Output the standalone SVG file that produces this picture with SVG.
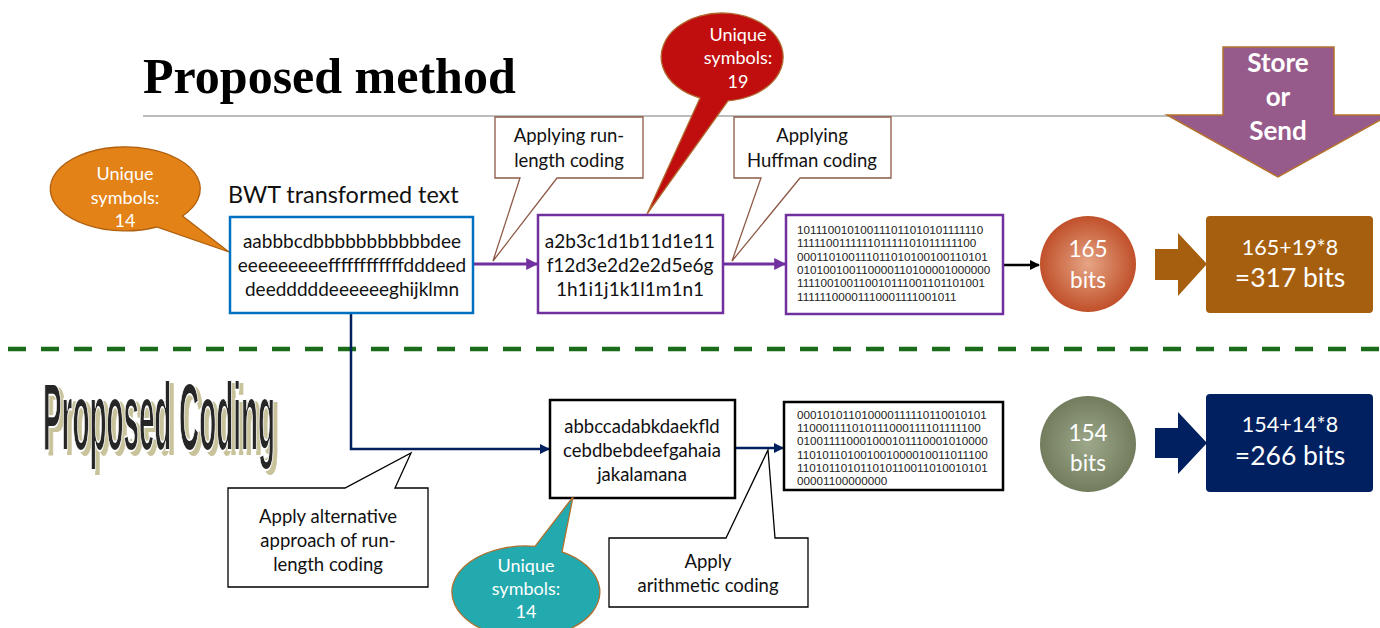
<svg xmlns="http://www.w3.org/2000/svg" width="1380" height="628" viewBox="0 0 1380 628">
<defs>
<style>
.cal{font-family:Lato,"Open Sans","Liberation Sans",sans-serif;}
.bin{font-family:"Liberation Sans",Arial,sans-serif;font-size:11.7px;fill:#222;}
.box{font-family:Lato,"Open Sans","Liberation Sans",sans-serif;font-size:19px;fill:#111;}
.box2{font-family:Lato,"Open Sans","Liberation Sans",sans-serif;font-size:18.5px;fill:#111;}
.cl{font-family:Lato,"Open Sans","Liberation Sans",sans-serif;font-size:18.5px;fill:#111;}
.wt{font-family:Lato,"Open Sans","Liberation Sans",sans-serif;font-size:18px;fill:#fff;}
.big{font-family:Lato,"Open Sans","Liberation Sans",sans-serif;fill:#fff;}
.pc{font-family:"Liberation Sans",Arial,sans-serif;font-weight:bold;font-size:97px;}
</style>
<filter id="shadow" x="-5%" y="-10%" width="115%" height="130%">
<feOffset in="SourceAlpha" dx="14" dy="4" result="off"/>
<feFlood flood-color="#C9C39C"/>
<feComposite in2="off" operator="in" result="sh"/>
<feMerge><feMergeNode in="sh"/><feMergeNode in="SourceGraphic"/></feMerge>
</filter>
<marker id="mp" viewBox="0 0 10 10" refX="9" refY="5" markerWidth="4" markerHeight="4" orient="auto"><path d="M0,0 L10,5 L0,10 Z" fill="#7030A0"/></marker>
<marker id="mk" viewBox="0 0 10 10" refX="9" refY="5" markerWidth="4" markerHeight="4" orient="auto"><path d="M0,0 L10,5 L0,10 Z" fill="#000"/></marker>
<marker id="mn" viewBox="0 0 10 10" refX="9" refY="5" markerWidth="4" markerHeight="4" orient="auto"><path d="M0,0 L10,5 L0,10 Z" fill="#002060"/></marker>
<radialGradient id="g1" cx="0.5" cy="0.5" r="0.5"><stop offset="0" stop-color="#E6A585"/><stop offset="1" stop-color="#C0502A"/></radialGradient>
<radialGradient id="g2" cx="0.5" cy="0.5" r="0.5"><stop offset="0" stop-color="#9DA88A"/><stop offset="1" stop-color="#737D5E"/></radialGradient>
</defs>
<rect width="1380" height="628" fill="#fff"/>

<g id="title">
<line x1="143" y1="116" x2="1380" y2="116" stroke="#A6A6A6" stroke-width="1.3"/>
<text x="143" y="93" font-family="Liberation Serif,Times New Roman,serif" font-weight="bold" font-size="50" fill="#000">Proposed method</text>
</g>

<g id="store-send">
<polygon points="1223,47 1334,47 1334,115 1389,115 1278,177 1167,115 1223,115" fill="#975B8B" stroke="#B5722D" stroke-width="1.5"/>
<text class="big" text-anchor="middle" x="1278" y="72" font-size="26" font-weight="bold">Store</text>
<text class="big" text-anchor="middle" x="1278" y="106" font-size="26" font-weight="bold">or</text>
<text class="big" text-anchor="middle" x="1278" y="140" font-size="26" font-weight="bold">Send</text>
</g>

<g id="divider">
<line x1="8" y1="349" x2="1380" y2="349" stroke="#1A6B1A" stroke-width="4.5" stroke-dasharray="18 15"/>
</g>

<g id="proposed-coding">
<text class="pc" transform="translate(43,450) scale(0.287,1)" x="0" y="0" fill="#262626" stroke="#fff" stroke-width="2" filter="url(#shadow)">Proposed Coding</text>
</g>

<g id="connectors" fill="none">
<line x1="474" y1="264" x2="537" y2="264" stroke="#7030A0" stroke-width="3" marker-end="url(#mp)"/>
<line x1="723" y1="264" x2="785" y2="264" stroke="#7030A0" stroke-width="3" marker-end="url(#mp)"/>
<line x1="1003" y1="265" x2="1039" y2="265" stroke="#000" stroke-width="2.5" marker-end="url(#mk)"/>
<path d="M351,313 V449 H549" stroke="#002060" stroke-width="2.5" marker-end="url(#mn)"/>
<line x1="735" y1="448" x2="783" y2="448" stroke="#002060" stroke-width="2.5" marker-end="url(#mn)"/>
</g>

<g id="unique-14-top">
<path d="M182.5,216 L229,252 L156.7,227 A75 42 0 1 1 182.5,216 Z" fill="#E38217" stroke="#B0600F" stroke-width="1.3"/>
<text class="wt" text-anchor="middle" x="125" y="180">Unique</text>
<text class="wt" text-anchor="middle" x="125" y="204">symbols:</text>
<text class="wt" text-anchor="middle" x="125" y="227">14</text>
</g>

<g id="bwt">
<text class="cal" x="228" y="203" font-size="23.4" fill="#111">BWT transformed text</text>
<rect x="230" y="217" width="243" height="96" fill="#fff" stroke="#0070C0" stroke-width="2.5"/>
<text class="box" text-anchor="middle" x="352" y="248">aabbbcdbbbbbbbbbbbdee</text>
<text class="box" text-anchor="middle" x="352" y="272">eeeeeeeeeffffffffffffdddeed</text>
<text class="box" text-anchor="middle" x="352" y="296">deedddddeeeeeeghijklmn</text>
</g>

<g id="callout-rle">
<path d="M495,117 H643 V178 H557 L493,261 L520,178 H495 Z" fill="#fff" stroke="#8C5A46" stroke-width="1.3"/>
<text class="cl" text-anchor="middle" x="569" y="142">Applying run-</text>
<text class="cl" text-anchor="middle" x="569" y="167">length coding</text>
</g>

<g id="unique-19">
<path d="M700,98 L647,214 L728,100.8 A61 44 0 1 0 700,98 Z" fill="#C00E0E" stroke="#B06A30" stroke-width="1.3"/>
<text class="wt" text-anchor="middle" x="738" y="41">Unique</text>
<text class="wt" text-anchor="middle" x="738" y="64">symbols:</text>
<text class="wt" text-anchor="middle" x="738" y="88">19</text>
</g>

<g id="rle">
<rect x="538" y="215" width="185" height="98" fill="#fff" stroke="#7030A0" stroke-width="2.5"/>
<text class="box" text-anchor="middle" x="630" y="248">a2b3c1d1b11d1e11</text>
<text class="box" text-anchor="middle" x="630" y="272">f12d3e2d2e2d5e6g</text>
<text class="box" text-anchor="middle" x="630" y="296">1h1i1j1k1l1m1n1</text>
</g>

<g id="callout-huffman">
<path d="M734,117 H891 V178 H800 L732,261 L761,178 H734 Z" fill="#fff" stroke="#8C5A46" stroke-width="1.3"/>
<text class="cl" text-anchor="middle" x="812" y="142">Applying</text>
<text class="cl" text-anchor="middle" x="812" y="167">Huffman coding</text>
</g>

<g id="huffman-bits">
<rect x="786" y="215" width="217" height="99" fill="#fff" stroke="#7030A0" stroke-width="2.5"/>
<text class="bin" x="797" y="234">101110010100111011010101111110</text>
<text class="bin" x="797" y="247">111110011111101111101011111100</text>
<text class="bin" x="797" y="261">000110100111011010100100110101</text>
<text class="bin" x="797" y="274">010100100110000110100001000000</text>
<text class="bin" x="797" y="287">111100100110010111001101101001</text>
<text class="bin" x="797" y="301">11111100001110001111001011</text>
</g>

<g id="bits-165">
<circle cx="1088" cy="264" r="48" fill="url(#g1)"/>
<text class="big" text-anchor="middle" x="1088" y="257" font-size="22.5">165</text>
<text class="big" text-anchor="middle" x="1088" y="288" font-size="22.5">bits</text>
</g>

<g id="arrow-top">
<polygon points="1155,249 1178,249 1178,233 1207,264 1178,296 1178,280 1155,280" fill="#A65F0E"/>
</g>

<g id="result-317">
<rect x="1206" y="216" width="167" height="97" rx="4" fill="#A65F0E"/>
<text class="big" text-anchor="middle" x="1290" y="255" font-size="21.5">165+19*8</text>
<text class="big" text-anchor="middle" x="1290" y="287" font-size="26.5">=317 bits</text>
</g>

<g id="alt-rle">
<rect x="550" y="400" width="185" height="98" fill="#fff" stroke="#000" stroke-width="2.5"/>
<text class="box2" text-anchor="middle" x="642" y="433">abbccadabkdaekfld</text>
<text class="box2" text-anchor="middle" x="642" y="457">cebdbebdeefgahaia</text>
<text class="box2" text-anchor="middle" x="642" y="481">jakalamana</text>
</g>

<g id="callout-alt">
<path d="M228,488 H345 L411,453 L395,488 H428 V587 H228 Z" fill="#fff" stroke="#000" stroke-width="1.3"/>
<text class="cl" text-anchor="middle" x="328" y="523">Apply alternative</text>
<text class="cl" text-anchor="middle" x="328" y="547">approach of run-</text>
<text class="cl" text-anchor="middle" x="328" y="571">length coding</text>
</g>

<g id="unique-14-bottom">
<path d="M535,546.3 L573,497 L562,551.8 A74 46 0 1 1 535,546.3 Z" fill="#22AAAE" stroke="#B07030" stroke-width="1.3"/>
<text class="wt" text-anchor="middle" x="526" y="572">Unique</text>
<text class="wt" text-anchor="middle" x="526" y="595">symbols:</text>
<text class="wt" text-anchor="middle" x="526" y="618">14</text>
</g>

<g id="callout-arith">
<path d="M609,538 H726 L768,450 L775,538 H808 V607 H609 Z" fill="#fff" stroke="#000" stroke-width="1.3"/>
<text class="cl" text-anchor="middle" x="708" y="568">Apply</text>
<text class="cl" text-anchor="middle" x="708" y="592">arithmetic coding</text>
</g>

<g id="arith-bits">
<rect x="784" y="402" width="219" height="88" fill="#fff" stroke="#000" stroke-width="2.5"/>
<text class="bin" x="797" y="419">000101011010000111110110010101</text>
<text class="bin" x="797" y="432">110001111010111000111101111100</text>
<text class="bin" x="797" y="445">010011110001000101110001010000</text>
<text class="bin" x="797" y="459">110101101001001000010011011100</text>
<text class="bin" x="797" y="472">110101101011010110011010010101</text>
<text class="bin" x="797" y="485">00001100000000</text>
</g>

<g id="bits-154">
<circle cx="1088" cy="444" r="48" fill="url(#g2)"/>
<text class="big" text-anchor="middle" x="1088" y="441" font-size="22.5">154</text>
<text class="big" text-anchor="middle" x="1088" y="471" font-size="22.5">bits</text>
</g>

<g id="arrow-bottom">
<polygon points="1155,428 1178,428 1178,412 1207,443 1178,474 1178,458 1155,458" fill="#002060"/>
</g>

<g id="result-266">
<rect x="1206" y="394" width="167" height="98" rx="4" fill="#002060"/>
<text class="big" text-anchor="middle" x="1290" y="432" font-size="21.5">154+14*8</text>
<text class="big" text-anchor="middle" x="1290" y="465" font-size="26.5">=266 bits</text>
</g>
</svg>
